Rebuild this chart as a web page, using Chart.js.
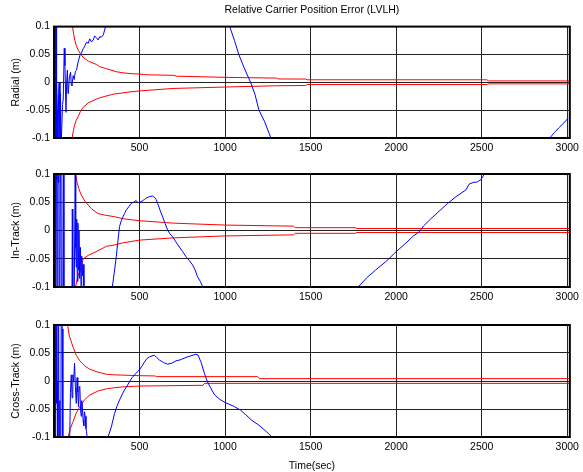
<!DOCTYPE html>
<html>
<head>
<meta charset="utf-8">
<script src="https://cdn.jsdelivr.net/npm/chart.js@4"></script>
<style>
  body { margin: 0; background: #fff; }
  #wrap { position: relative; width: 583px; height: 472px; }
  #wrap canvas { position: absolute; left: 0; }
</style>
</head>
<body>
<div id="wrap">
  <canvas id="radialChart" width="583" height="160" style="top:0"></canvas>
  <canvas id="inTrackChart" width="583" height="160" style="top:150px"></canvas>
  <canvas id="crossChart" width="583" height="172" style="top:300px"></canvas>
</div>
<script>
// Axis ticks
const xTicks = [500, 1000, 1500, 2000, 2500, 3000];
const yTicks = [-0.1, -0.05, 0, 0.05, 0.1];

// Radial error (blue) and its bounds (red)
const radialT = [0, 1, 2, 3, 4, 5, 6, 7, 8, 9, 10, 11, 12, 14, 16, 20, 23, 27, 30, 35, 38, 41, 45, 50, 54, 60, 64, 70, 74, 78, 82, 85, 90, 97, 101, 105, 112, 118, 125, 132, 140, 151, 160, 170, 180, 190, 200, 209, 218, 228, 238, 248, 258, 268, 277, 288, 296, 305, 310, 1015, 1027, 1055, 1080, 1110, 1149, 1175, 1198, 1230, 1268, 1275, 2880, 2898, 2925, 2950, 2980, 3006];
const radialV = [0.3, -0.3, 0.3, -0.3, 0.3, -0.3, 0.3, -0.3, 0.3, -0.3, 0.3, -0.3, 0.3, -0.3, 0.0, -0.05, -0.12, -0.02, 0.0, -0.11, -0.02, -0.12, -0.12, -0.04, -0.03, 0.061, 0.03, -0.054, 0.0, 0.022, -0.02, -0.013, 0.01, 0.018, -0.004, -0.006, 0.012, 0.005, 0.02, 0.022, 0.035, 0.048, 0.052, 0.06, 0.065, 0.072, 0.07, 0.078, 0.073, 0.075, 0.083, 0.08, 0.076, 0.082, 0.081, 0.085, 0.094, 0.104, 0.12, 0.12, 0.1, 0.075, 0.05, 0.027, 0.0, -0.022, -0.05, -0.07, -0.1, -0.12, -0.12, -0.1, -0.09, -0.082, -0.073, -0.064];
const radialUpT = [95, 108, 115, 122, 130, 141, 155, 170, 200, 248, 267, 300, 364, 403, 450, 500, 540, 700, 715, 1000, 1300, 1310, 1470, 1480, 2530, 2540, 3015];
const radialUpV = [0.13, 0.1, 0.086, 0.075, 0.066, 0.058, 0.051, 0.045, 0.038, 0.032, 0.028, 0.025, 0.019, 0.017, 0.0155, 0.0148, 0.0135, 0.0125, 0.011, 0.0089, 0.0075, 0.006, 0.0058, 0.0045, 0.0045, 0.0025, 0.0025];
const radialLoT = [95, 106, 113, 120, 130, 141, 155, 170, 200, 256, 300, 353, 403, 450, 500, 700, 1000, 1300, 1470, 1480, 2530, 2540, 3015];
const radialLoV = [-0.13, -0.1, -0.087, -0.077, -0.068, -0.062, -0.052, -0.045, -0.037, -0.029, -0.025, -0.021, -0.019, -0.017, -0.0155, -0.011, -0.0085, -0.0062, -0.0058, -0.004, -0.004, -0.0028, -0.0028];

// In-track error (blue) and its bounds (red)
const inTrackT = [0, 1, 2, 3, 4, 5, 7, 9, 12, 14, 17, 19, 22, 25, 28, 31, 35, 40, 44, 50, 55, 58, 100, 105, 107, 110, 114, 120, 124, 127, 130, 133, 136, 140, 143, 146, 150, 154, 158, 162, 166, 170, 175, 180, 330, 341, 352, 364, 373, 383, 393, 403, 412, 422, 437, 451, 465, 480, 490, 500, 515, 529, 543, 558, 575, 587, 597, 606, 620, 635, 650, 664, 678, 693, 712, 732, 751, 771, 790, 810, 825, 839, 855, 870, 880, 1770, 1778, 1830, 1880, 1940, 1991, 2050, 2100, 2136, 2160, 2200, 2250, 2301, 2350, 2407, 2427, 2450, 2475, 2495, 2512, 2520];
const inTrackV = [0.3, -0.3, 0.3, -0.3, 0.3, -0.3, 0.3, -0.3, 0.3, 0.09, 0.1, -0.3, 0.3, 0.085, 0.3, -0.3, -0.3, 0.3, -0.3, -0.3, 0.3, -0.3, -0.3, -0.12, 0.038, -0.1, -0.3, -0.05, 0.105, -0.03, -0.065, 0.02, -0.09, 0.013, -0.07, 0.0, -0.085, -0.03, -0.1, -0.045, -0.08, -0.06, -0.1, -0.12, -0.12, -0.1, -0.075, -0.046, -0.02, 0.007, 0.017, 0.024, 0.03, 0.036, 0.042, 0.048, 0.05, 0.053, 0.049, 0.05, 0.052, 0.055, 0.058, 0.06, 0.061, 0.059, 0.055, 0.048, 0.036, 0.024, 0.012, 0.001, -0.006, -0.011, -0.02, -0.029, -0.037, -0.046, -0.053, -0.061, -0.07, -0.082, -0.09, -0.1, -0.12, -0.12, -0.1, -0.083, -0.07, -0.055, -0.04, -0.024, -0.01, -0.002, 0.008, 0.02, 0.034, 0.048, 0.06, 0.0717, 0.0823, 0.085, 0.086, 0.09, 0.098, 0.12];
const inTrackUpT = [120, 126, 135, 145, 159, 180, 200, 217, 256, 300, 353, 400, 500, 700, 1000, 1400, 1410, 1760, 1770, 3015];
const inTrackUpV = [0.13, 0.1, 0.085, 0.074, 0.063, 0.052, 0.045, 0.039, 0.03, 0.027, 0.0245, 0.021, 0.0173, 0.013, 0.0096, 0.0077, 0.005, 0.005, 0.0035, 0.0035];
const inTrackLoT = [120, 126, 140, 160, 170, 200, 256, 306, 353, 400, 500, 700, 1000, 1400, 1410, 1760, 1770, 3015];
const inTrackLoV = [-0.13, -0.1, -0.08, -0.066, -0.05, -0.044, -0.036, -0.028, -0.0257, -0.022, -0.017, -0.013, -0.0096, -0.0077, -0.005, -0.005, -0.0035, -0.0035];

// Cross-track error (blue) and its bounds (red)
const crossT = [0, 1, 2, 3, 4, 5, 6, 7, 8, 9, 10, 12, 14, 16, 18, 22, 26, 30, 34, 38, 44, 48, 52, 60, 70, 81, 91, 96, 101, 106, 110, 115, 120, 125, 130, 135, 139, 143, 147, 151, 155, 159, 162, 165, 170, 174, 178, 182, 187, 190, 193, 196, 310, 316, 335, 354, 368, 383, 397, 412, 427, 442, 456, 471, 486, 500, 515, 529, 543, 558, 573, 587, 600, 616, 640, 664, 690, 713, 740, 771, 800, 829, 842, 860, 880, 896, 915, 939, 970, 1004, 1050, 1090, 1120, 1155, 1198, 1240, 1274, 1285];
const crossV = [0.3, -0.3, 0.3, -0.3, 0.3, -0.3, 0.3, -0.3, 0.3, -0.3, 0.3, 0.025, -0.04, 0.3, 0.0, -0.3, 0.3, -0.3, -0.035, -0.3, 0.3, 0.093, -0.3, -0.3, -0.3, -0.1, -0.12, -0.02, 0.011, -0.03, 0.011, 0.0, 0.032, -0.01, -0.04, 0.006, -0.02, -0.046, -0.01, -0.011, -0.05, -0.063, -0.035, -0.04, -0.07, -0.08, -0.055, -0.063, -0.085, -0.09, -0.1, -0.12, -0.12, -0.1, -0.082, -0.058, -0.045, -0.034, -0.025, -0.016, -0.009, -0.001, 0.006, 0.011, 0.016, 0.02, 0.027, 0.034, 0.04, 0.043, 0.045, 0.046, 0.042, 0.0375, 0.033, 0.03, 0.032, 0.036, 0.038, 0.042, 0.045, 0.0477, 0.0464, 0.033, 0.013, -0.001, -0.012, -0.025, -0.033, -0.039, -0.045, -0.052, -0.06, -0.07, -0.079, -0.09, -0.1, -0.12];
const crossUpT = [70, 79, 90, 112, 130, 151, 180, 209, 256, 306, 353, 400, 500, 590, 600, 1190, 1200, 3015];
const crossUpV = [0.13, 0.1, 0.08, 0.06, 0.046, 0.036, 0.027, 0.021, 0.016, 0.012, 0.011, 0.0105, 0.0095, 0.009, 0.0078, 0.0078, 0.0042, 0.0042];
const crossLoT = [72, 83, 95, 112, 130, 151, 180, 209, 256, 306, 353, 400, 500, 870, 880, 3015];
const crossLoV = [-0.13, -0.1, -0.085, -0.072, -0.057, -0.046, -0.033, -0.025, -0.018, -0.014, -0.012, -0.0105, -0.009, -0.0077, -0.0042, -0.0042];

const FONT = "'Liberation Sans', Arial, sans-serif";

function pts(t, v) {
    return t.map((x, i) => ({ x: x, y: v[i] }));
}

// draws the black frame round the axes
const boxPlugin = {
    id: "box",
    afterDraw(chart) {
        const { ctx, chartArea: a } = chart;
        ctx.save();
        ctx.strokeStyle = "#000";
        ctx.lineWidth = 2;
        ctx.strokeRect(a.left, a.top, a.right - a.left, a.bottom - a.top);
        ctx.restore();
    }
};

function makeChart(id, blue, up, lo, yLabel, opts) {
    return new Chart(document.getElementById(id), {
        type: "line",
        data: {
            datasets: [
                { data: blue, borderColor: "#0000ff", borderWidth: 1 },
                { data: up, borderColor: "#ff0000", borderWidth: 1 },
                { data: lo, borderColor: "#ff0000", borderWidth: 1 }
            ]
        },
        options: {
            responsive: false,
            animation: false,
            parsing: false,
            elements: { point: { radius: 0 }, line: { tension: 0 } },
            layout: { padding: { top: opts.padTop, right: 10, left: 0, bottom: 0 } },
            plugins: {
                legend: { display: false },
                tooltip: { enabled: false },
                title: opts.title ? {
                    display: true,
                    text: opts.title,
                    fullSize: false,
                    color: "#000",
                    font: { family: FONT, size: 10.5, weight: "normal", lineHeight: 1.2 },
                    padding: { top: 4, bottom: 10 }
                } : { display: false }
            },
            scales: {
                x: {
                    type: "linear",
                    min: 0,
                    max: 3015,
                    afterBuildTicks: s => { s.ticks = xTicks.map(v => ({ value: v })); },
                    afterFit: s => { s.height = opts.xHeight; },
                    grid: { color: "#222", lineWidth: 1, drawTicks: false },
                    border: { display: false },
                    ticks: { color: "#000", padding: 4, maxRotation: 0, font: { family: FONT, size: 10.5 }, callback: v => String(v) },
                    title: opts.xTitle ? {
                        display: true,
                        text: opts.xTitle,
                        color: "#000",
                        font: { family: FONT, size: 10.5 },
                        padding: { top: 2, bottom: 0 }
                    } : { display: false }
                },
                y: {
                    min: -0.1,
                    max: 0.1,
                    afterBuildTicks: s => { s.ticks = yTicks.map(v => ({ value: v })); },
                    afterFit: s => { s.width = 54; },
                    grid: { color: "#222", lineWidth: 1, drawTicks: false },
                    border: { display: false },
                    ticks: { color: "#000", padding: 4, font: { family: FONT, size: 10.5 }, callback: v => String(v) },
                    title: {
                        display: true,
                        text: yLabel,
                        color: "#000",
                        font: { family: FONT, size: 10.5 },
                        padding: { top: 10, bottom: 0 }
                    }
                }
            }
        },
        plugins: [boxPlugin]
    });
}

// Radial
makeChart("radialChart", pts(radialT, radialV), pts(radialUpT, radialUpV), pts(radialLoT, radialLoV),
    "Radial (m)", { padTop: 0, xHeight: 22, title: "Relative Carrier Position Error (LVLH)" });

// In-Track
makeChart("inTrackChart", pts(inTrackT, inTrackV), pts(inTrackUpT, inTrackUpV), pts(inTrackLoT, inTrackLoV),
    "In-Track (m)", { padTop: 24, xHeight: 23 });

// Cross-Track
makeChart("crossChart", pts(crossT, crossV), pts(crossUpT, crossUpV), pts(crossLoT, crossLoV),
    "Cross-Track (m)", { padTop: 25, xHeight: 35, xTitle: "Time(sec)" });
</script>
</body>
</html>
